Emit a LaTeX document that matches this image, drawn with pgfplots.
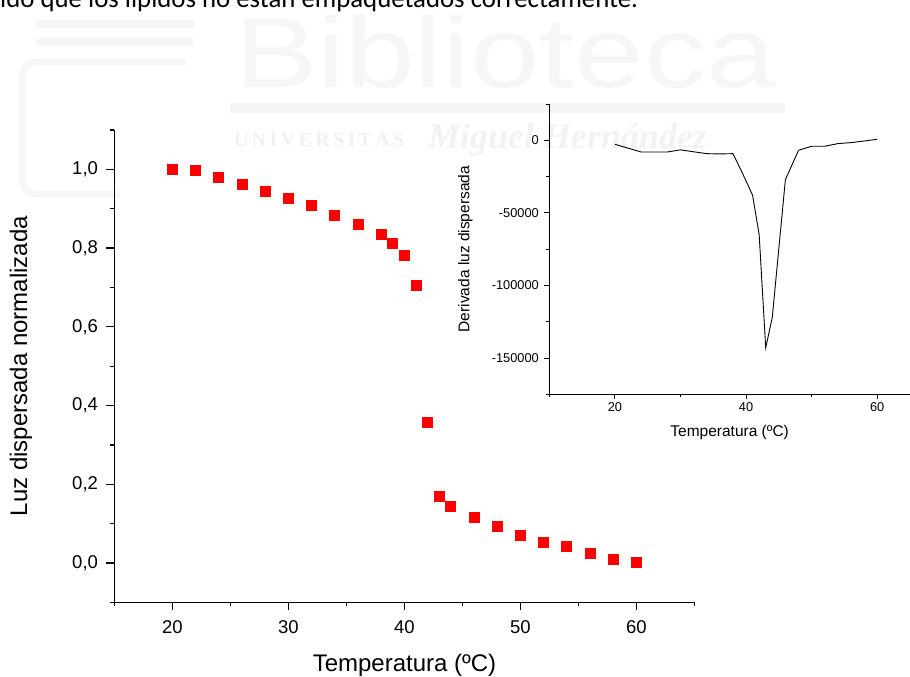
\documentclass[border=0pt]{standalone}
\usepackage{pgfplots}
\pgfplotsset{compat=1.18}
\usepackage{fontspec}
\setmainfont{Liberation Sans}
\newfontfamily\carlito{Carlito}
\newfontfamily\serifwm{Liberation Serif}
\definecolor{mred}{HTML}{FF0000}
\begin{document}
\begin{tikzpicture}[x=1pt,y=1pt]
\path[use as bounding box] (0,0) rectangle (910,-677);
% page text and faint watermark
\node[anchor=base west, inner sep=0pt, font=\carlito\fontsize{26.8}{30}\selectfont] at (0,-7.3) {ido que los lípidos no están empaquetados correctamente.};
\draw[black!3.5, line width=8pt] (35,-24) -- (194,-24);
\draw[black!3.5, line width=8pt] (35,-42) -- (194,-42);
\draw[black!3.5, line width=7pt, rounded corners=14pt] (186,-62) -- (22,-62) -- (22,-194) -- (120,-194);
\node[anchor=base west, inner sep=0pt, text=black!3.5, font=\fontsize{100}{110}\selectfont, xscale=1.25] at (234,-88) {Biblioteca};
\fill[black!4] (230,-103) rectangle (785,-113);
\node[anchor=base west, inner sep=0pt, text=black!6, font=\serifwm\bfseries\fontsize{20}{24}\selectfont] at (234,-146) {U\,N\,I\,V\,E\,R\,S\,I\,T\,A\,S};
\node[anchor=base west, inner sep=0pt, text=black!5, font=\serifwm\bfseries\itshape\fontsize{36}{40}\selectfont] at (428,-148) {Miguel Hernández};
% main chart
\begin{axis}[
  at={(114.5pt,-602.3pt)}, anchor=south west,
  scale only axis, width=580pt, height=472.3pt,
  xmin=15, xmax=65, ymin=-0.1, ymax=1.1,
  axis x line*=bottom, axis y line*=left,
  axis line style={line width=1.3pt, -},
  xtick={20,30,40,50,60}, minor xtick={15,25,35,45,55,65},
  ytick={0,0.2,0.4,0.6,0.8,1.0}, minor ytick={-0.1,0.1,0.3,0.5,0.7,0.9,1.1},
  tick align=outside, major tick length=8pt, minor tick length=4pt,
  every tick/.style={black, line width=1.3pt},
  ticklabel style={font=\fontsize{18.5}{22}\selectfont},
  xticklabel style={yshift=-7pt},
  /pgf/number format/assume math mode=true,
  yticklabel style={xshift=-5pt, /pgf/number format/.cd, fixed, fixed zerofill, precision=1, use comma, assume math mode=true},
  xlabel={Temperatura (ºC)},
  ylabel={Luz dispersada normalizada},
  label style={font=\fontsize{24}{28}\selectfont},
  xlabel style={at={(axis description cs:0.5,0)}, anchor=base, yshift=-69.4pt},
  ylabel style={at={(axis description cs:-0.1612,0.5)}, anchor=center},
  clip=false,
]
\addplot[only marks, mark=square*, mark size=5pt, color=mred, mark options={fill=mred, draw=mred, line width=0pt}] coordinates {
(20,1.000) (22,0.997) (24,0.980) (26,0.962) (28,0.944) (30,0.925) (32,0.907)
(34,0.884) (36,0.859) (38,0.835) (39,0.811) (40,0.780) (41,0.704) (42,0.356)
(43,0.170) (44,0.143) (46,0.115) (48,0.092) (50,0.071) (52,0.053) (54,0.041)
(56,0.025) (58,0.009) (60,0.001)};
\end{axis}
% inset
\begin{axis}[
  at={(549.3pt,-394.3pt)}, anchor=south west,
  scale only axis, width=360.7pt, height=290.3pt,
  xmin=10, xmax=65, ymin=-175000, ymax=25000,
  axis x line*=bottom, axis y line*=left,
  axis line style={line width=0.9pt, -},
  xtick={20,40,60}, minor xtick={10,30,50},
  ytick={-150000,-100000,-50000,0}, minor ytick={-175000,-125000,-75000,-25000,25000},
  scaled y ticks=false,
  tick align=outside, major tick length=5pt, minor tick length=3pt,
  every tick/.style={black, line width=0.9pt},
  ticklabel style={font=\fontsize{12.8}{15}\selectfont},
  /pgf/number format/assume math mode=true,
  yticklabel style={xshift=-2pt, /pgf/number format/.cd, fixed, 1000 sep={}, assume math mode=true},
  xlabel={Temperatura (ºC)},
  ylabel={Derivada luz dispersada},
  label style={font=\fontsize{15.5}{18}\selectfont},
  xlabel style={at={(axis description cs:0.5,0)}, anchor=base, yshift=-42pt},
  ylabel style={at={(axis description cs:-0.2328,0.5)}, anchor=center},
  clip=false,
]
\addplot[black, line width=0.9pt, mark=none] coordinates {
(20,-2750) (22,-5400) (24,-8050) (26,-8050) (28,-8050) (30,-6600) (32,-7900)
(34,-9200) (36,-9400) (38,-9200) (39,-18400) (40,-28000) (41,-37900) (42,-65000)
(43,-143000) (44,-122000) (46,-27100) (48,-6900) (50,-4100) (52,-4100) (54,-2300)
(56,-1600) (58,-500) (60,700)};
\end{axis}
\end{tikzpicture}
\end{document}
